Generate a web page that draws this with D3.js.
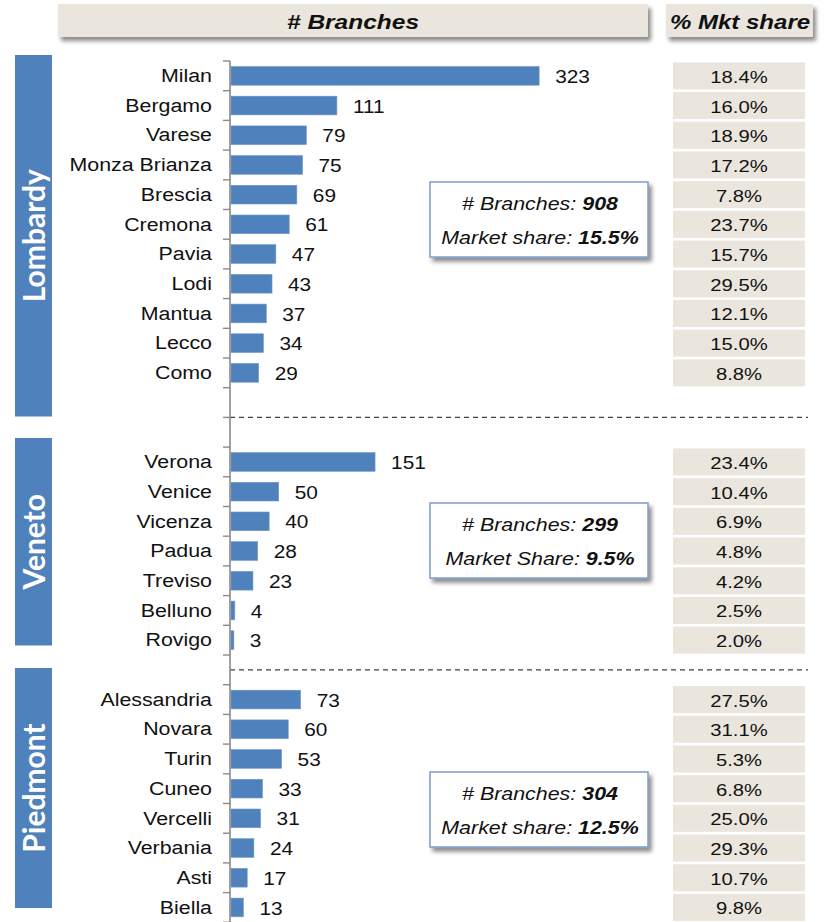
<!DOCTYPE html>
<html>
<head>
<meta charset="utf-8">
<script src="https://cdn.jsdelivr.net/npm/d3@7"></script>
<style>
  html, body { margin: 0; padding: 0; background: #fff; }
  svg { display: block; }
  text { font-family: "Liberation Sans", Arial, sans-serif; fill: #111; }
</style>
</head>
<body>
<div id="chart"></div>
<script>
// ---------- data ----------
const regions = ["Lombardy", "Veneto", "Piedmont"];

const lombardyCities   = ["Milan","Bergamo","Varese","Monza Brianza","Brescia","Cremona","Pavia","Lodi","Mantua","Lecco","Como"];
const lombardyBranches = [323,111,79,75,69,61,47,43,37,34,29];
const lombardyShare    = [18.4,16.0,18.9,17.2,7.8,23.7,15.7,29.5,12.1,15.0,8.8];

const venetoCities   = ["Verona","Venice","Vicenza","Padua","Treviso","Belluno","Rovigo"];
const venetoBranches = [151,50,40,28,23,4,3];
const venetoShare    = [23.4,10.4,6.9,4.8,4.2,2.5,2.0];

const piedmontCities   = ["Alessandria","Novara","Turin","Cuneo","Vercelli","Verbania","Asti","Biella"];
const piedmontBranches = [73,60,53,33,31,24,17,13];
const piedmontShare    = [27.5,31.1,5.3,6.8,25.0,29.3,10.7,9.8];

const summaryBranches = [908, 299, 304];
const summaryShareLabel = ["Market share", "Market Share", "Market share"];
const summaryShare = ["15.5%", "9.5%", "12.5%"];

const headerLabels = ["# Branches", "% Mkt share"];

// ---------- layout ----------
const W = 825, H = 922;
const SX = 1.19;              // horizontal text stretch of the original picture
const blue = "#4F81BD";
const beige = "#EAE6DD";

const groups = [
  { name: regions[0], cities: lombardyCities, branches: lombardyBranches, share: lombardyShare },
  { name: regions[1], cities: venetoCities,   branches: venetoBranches,   share: venetoShare },
  { name: regions[2], cities: piedmontCities, branches: piedmontBranches, share: piedmontShare }
];
const gapsAfter = [2, 1, 0];
const blockExtent = [[55, 416.5], [438, 645.5], [668, 908]];
const boxTop = [182, 503, 772];

// slot domain
const slots = [];
const rows = [];
groups.forEach((g, gi) => {
  g.cities.forEach((c, i) => {
    slots.push(c);
    rows.push({ city: c, branches: g.branches[i], share: g.share[i], group: gi });
  });
  for (let k = 0; k < gapsAfter[gi]; k++) slots.push("__gap" + gi + "_" + k);
});

const svg = d3.select("#chart").append("svg").attr("width", W).attr("height", H);

const defs = svg.append("defs");
const f = defs.append("filter").attr("id", "shadow")
  .attr("x", "-10%").attr("y", "-20%").attr("width", "130%").attr("height", "160%");
f.append("feDropShadow").attr("dx", 3).attr("dy", 4).attr("stdDeviation", 2)
  .attr("flood-color", "#000").attr("flood-opacity", 0.45);

const y = d3.scaleBand().domain(slots).range([61, 61 + slots.length * 29.7])
  .paddingInner(0.37).paddingOuter(0.185);
const x = d3.scaleLinear().domain([0, 340]).range([231, 231 + 340 * 0.954]);
const axisX = 230;
const cy = d => y(d) + y.bandwidth() / 2;
const half = (y.step() - y.bandwidth()) / 2;

function stretchedText(parent, px, py, anchor, sx) {
  return parent.append("g").attr("transform", `translate(${px},${py}) scale(${sx || SX},1)`)
    .append("text").attr("text-anchor", anchor);
}

// ---------- header ----------
const headers = [
  { label: headerLabels[0], x0: 58, x1: 648 },
  { label: headerLabels[1], x0: 666, x1: 813 }
];
headers.forEach((h, i) => {
  svg.append("rect").attr("x", h.x0).attr("y", 4).attr("width", h.x1 - h.x0).attr("height", 33)
    .attr("fill", beige).attr("filter", "url(#shadow)");
  stretchedText(svg, (h.x0 + h.x1) / 2 + (i ? 0.5 : 0), 29, "middle")
    .attr("font-size", i ? 20.2 : 20.6).attr("font-weight", "bold").attr("font-style", "italic")
    .text(h.label);
});

// ---------- region blocks ----------
groups.forEach((g, gi) => {
  const [t, b] = blockExtent[gi];
  svg.append("rect").attr("x", 15).attr("y", t).attr("width", 37).attr("height", b - t).attr("fill", blue);
  svg.append("text")
    .attr("transform", `translate(34,${(t + b) / 2}) rotate(-90)`)
    .attr("text-anchor", "middle").attr("dy", "0.36em")
    .style("font-family", "Lato, 'Open Sans', sans-serif")
    .attr("font-size", 30).attr("font-weight", 700).style("fill", "#fff")
    .text(g.name);
});

// ---------- dashed separators ----------
const sepYs = [];
groups.forEach((g, gi) => {
  if (gi < groups.length - 1) {
    const last = g.cities[g.cities.length - 1];
    const next = groups[gi + 1].cities[0];
    sepYs.push((cy(last) + cy(next)) / 2);
  }
});
svg.selectAll(".sep").data(sepYs).enter().append("line")
  .attr("x1", axisX).attr("x2", 808).attr("y1", d => d).attr("y2", d => d)
  .attr("stroke", "#404040").attr("stroke-width", 1.2).attr("stroke-dasharray", "5,4");

// ---------- bars ----------
svg.selectAll(".bar").data(rows).enter().append("rect")
  .attr("x", x(0)).attr("y", d => y(d.city))
  .attr("width", d => x(d.branches) - x(0)).attr("height", y.bandwidth())
  .attr("fill", blue).attr("stroke", "#6f98cc").attr("stroke-width", 0.6);

// ---------- axis ----------
const boundaries = slots.map(s => y(s) - half).concat([y(slots[slots.length - 1]) + y.bandwidth() + half]);
svg.append("line").attr("x1", axisX).attr("x2", axisX)
  .attr("y1", boundaries[0]).attr("y2", H).attr("stroke", "#8a8a8a").attr("stroke-width", 1.6);
svg.selectAll(".tick").data(boundaries).enter().append("line")
  .attr("x1", axisX - 7).attr("x2", axisX).attr("y1", d => d).attr("y2", d => d)
  .attr("stroke", "#8a8a8a").attr("stroke-width", 1.4);

// ---------- labels ----------
rows.forEach(r => {
  stretchedText(svg, 212, cy(r.city), "end", 1.2).attr("dy", "0.35em").attr("font-size", 17.8).text(r.city);
  stretchedText(svg, x(r.branches) + 16, cy(r.city) + 1, "start").attr("dy", "0.35em").attr("font-size", 17.5).text(r.branches);
});

// ---------- market share cells ----------
svg.selectAll(".cell").data(rows).enter().append("rect")
  .attr("x", 673).attr("width", 132)
  .attr("y", d => cy(d.city) - 13.5).attr("height", 27)
  .attr("fill", beige);
rows.forEach(r => {
  stretchedText(svg, 739, cy(r.city) + 1, "middle").attr("dy", "0.35em").attr("font-size", 17)
    .text(d3.format(".1f")(r.share) + "%");
});

// ---------- summary boxes ----------
groups.forEach((g, gi) => {
  const t = boxTop[gi];
  svg.append("rect").attr("x", 430).attr("y", t).attr("width", 218).attr("height", 75)
    .attr("fill", "#fff").attr("stroke", "#7d9ccb").attr("stroke-width", 1.5)
    .attr("filter", "url(#shadow)");
  const l1 = stretchedText(svg, 540, t + 28, "middle").attr("font-size", 18).attr("font-style", "italic");
  l1.append("tspan").text("# Branches: ");
  l1.append("tspan").attr("font-weight", "bold").text(summaryBranches[gi]);
  const l2 = stretchedText(svg, 540, t + 61.5, "middle").attr("font-size", 18).attr("font-style", "italic");
  l2.append("tspan").text(summaryShareLabel[gi] + ": ");
  l2.append("tspan").attr("font-weight", "bold").text(summaryShare[gi]);
});
</script>
</body>
</html>
